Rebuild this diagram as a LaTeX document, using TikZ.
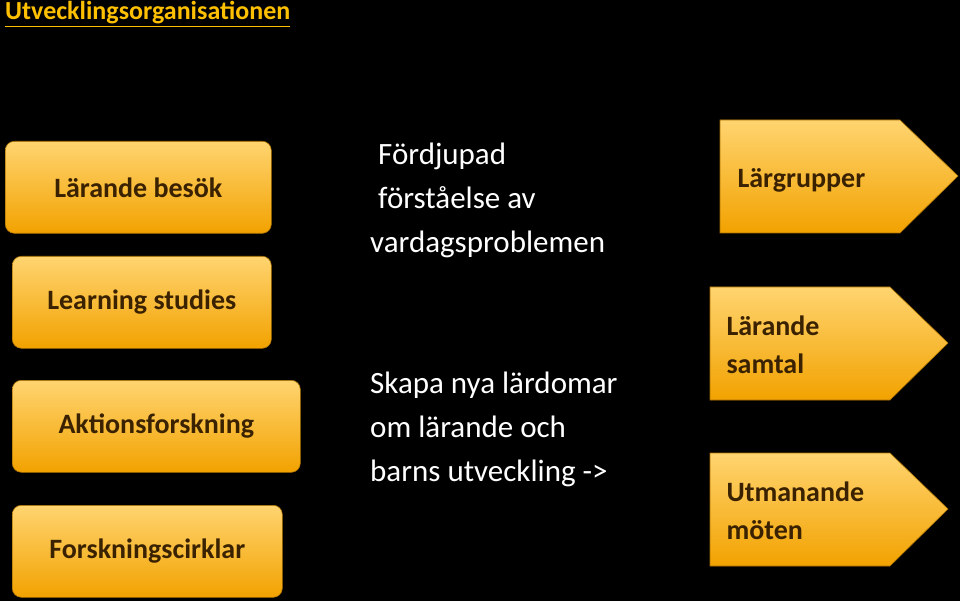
\documentclass[tikz,border=0pt]{standalone}
\usepackage{fontspec}
\setmainfont{Carlito}
\usetikzlibrary{shapes.arrows}
\definecolor{txt}{HTML}{3A2200}
\definecolor{ytop}{HTML}{FFD470}
\definecolor{ybot}{HTML}{F2A200}
\definecolor{ttl}{HTML}{FFC000}
\tikzset{
 box/.style={draw=ybot!70!black,line width=0.6pt,rounded corners=9pt,top color=ytop,bottom color=ybot,anchor=north west,inner sep=0pt},
 btext/.style={text=txt,font=\fontsize{28}{30}\selectfont\bfseries},
 mtext/.style={text=white,font=\fontsize{31}{44}\selectfont,align=left,anchor=north west,inner sep=0pt},
 arr/.style={draw=ybot!70!black,line width=0.6pt,top color=ytop,bottom color=ybot},
}
\begin{document}
\begin{tikzpicture}[x=1pt,y=-1pt]
\fill[black] (0,0) rectangle (960,601);
\useasboundingbox (0,0) rectangle (960,601);
\node[anchor=west,inner sep=0pt,text=ttl,font=\fontsize{26}{28}\selectfont\bfseries] (title) at (5,14) {\underline{Utvecklingsorganisationen}};
\node[box,minimum width=266pt,minimum height=92pt] (b1) at (5,141) {};
\node[btext] at (b1.center) {Lärande besök};
\node[box,minimum width=259pt,minimum height=92pt] (b2) at (12,256) {};
\node[btext] at (b2.center) {Learning studies};
\node[box,minimum width=288pt,minimum height=92pt] (b3) at (12,380) {};
\node[btext] at (b3.center) {Aktionsforskning};
\node[box,minimum width=270pt,minimum height=92pt] (b4) at (12,505) {};
\node[btext] at (b4.center) {Forskningscirklar};
\node[mtext] (m1) at (370,143) {\hspace*{8pt}Fördjupad\\\hspace*{8pt}förståelse av\\vardagsproblemen};
\node[mtext] (m2) at (370,372) {Skapa nya lärdomar\\om lärande och\\barns utveckling ->};
\draw[arr] (720,120) -- (900,120) -- (958,176) -- (900,233) -- (720,233) -- cycle;
\node[btext,anchor=west] (r1) at (734,180) {Lärgrupper};
\draw[arr] (710,287) -- (890,287) -- (948,343) -- (890,400) -- (710,400) -- cycle;
\node[btext,anchor=west,align=left,font=\fontsize{28}{38}\selectfont\bfseries] (r2) at (723,345) {Lärande\\samtal};
\draw[arr] (710,453) -- (890,453) -- (948,509) -- (890,566) -- (710,566) -- cycle;
\node[btext,anchor=west,align=left,font=\fontsize{28}{38}\selectfont\bfseries] (r3) at (723,511) {Utmanande\\möten};
\end{tikzpicture}
\end{document}
